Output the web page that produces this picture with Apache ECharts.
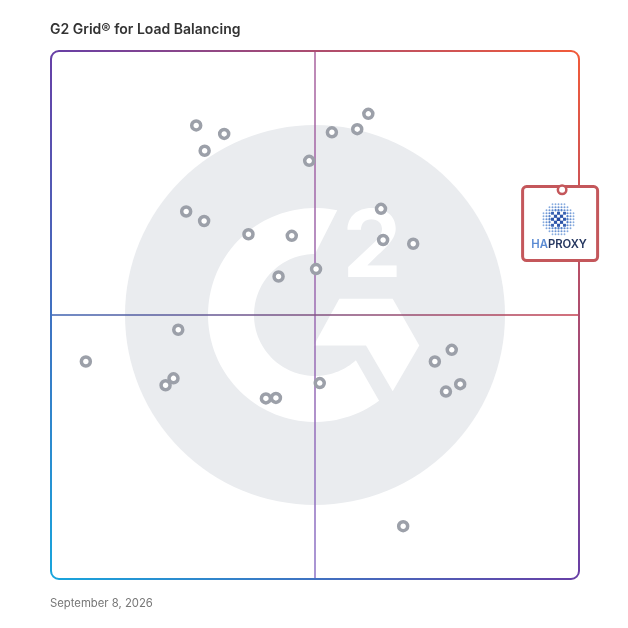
<!DOCTYPE html>
<html><head><meta charset="utf-8">
<script src="https://cdn.jsdelivr.net/npm/echarts@6/dist/echarts.min.js"></script>
<style>html,body{margin:0;padding:0;background:#fff}#c{width:628px;height:628px}</style>
</head><body><div id="c"></div>
<script>
// ---- data ----
const titleText = 'G2 Grid® for Load Balancing';
const dateText = 'September 8, 2026';
// x = satisfaction, y = market presence (0-100)
const productX = [27.5,32.8,29.1,53.2,58.0,60.1,48.9,25.6,29.0,37.4,45.6,62.5,62.9,68.6,43.1,50.2,24.1,6.6,23.2,21.7,40.7,42.6,50.9,72.7,75.9,74.8,77.5,66.7];
const productY = [85.9,84.3,81.1,84.6,85.2,88.1,79.2,69.6,67.8,65.3,65.0,70.1,64.2,63.5,57.3,58.7,47.2,41.2,38.0,36.7,34.2,34.3,37.1,41.2,43.4,35.5,36.9,10.0];
const featuredNameA = 'HA';
const featuredNameB = 'PROXY';
const featuredX = [96.8];
const featuredY = [73.7];
const axisMin = 0, axisMax = 100, midValue = 50;

// ---- chart ----
const chart = echarts.init(document.getElementById('c'), null, {renderer: 'canvas'});
chart.setOption({
  animation: false,
  backgroundColor: '#fff',
  title: [
    {text: titleText, left: 50, top: 23, padding: 0,
     textStyle: {fontFamily: 'Inter', fontSize: 14, fontWeight: 600, color: '#333'}},
    {text: dateText, left: 50, top: 598, padding: 0,
     textStyle: {fontFamily: 'Inter', fontSize: 11.3, fontWeight: 400, color: '#777'}}
  ],
  grid: {left: 51, top: 51, width: 528, height: 528},
  xAxis: {type: 'value', min: axisMin, max: axisMax, show: false},
  yAxis: {type: 'value', min: axisMin, max: axisMax, show: false},
  series: [
    {type: 'scatter', z: 5, symbol: 'circle', symbolSize: 9,
     itemStyle: {color: '#fff', borderColor: '#9ca0a9', borderWidth: 3.5, opacity: 1},
     data: productX.map((x, i) => [x, productY[i]])},
    {type: 'scatter', z: 30, symbol: 'circle', symbolSize: 8.5,
     itemStyle: {color: '#fff', borderColor: '#c4575b', borderWidth: 2.5, opacity: 1},
     data: featuredX.map((x, i) => [x, featuredY[i]])}
  ]
});

const px = (x, y) => chart.convertToPixel({gridIndex: 0}, [x, y]);
const tl = px(axisMin, axisMax), br = px(axisMax, axisMin), c = px(midValue, midValue);
const s = (br[0] - tl[0]) / 528;
const G = echarts.graphic;

function arcPts(r, a0, a1, n) {
  const pts = [];
  for (let i = 0; i <= n; i++) {
    const a = (a0 + (a1 - a0) * i / n) * Math.PI / 180;
    pts.push([c[0] + r * s * Math.cos(a), c[1] - r * s * Math.sin(a)]);
  }
  return pts;
}
const cPoly = arcPts(107, 78, 306.8, 90).concat(arcPts(61, 312.1, 90, 90));
const chev = [[24.3,-16.2],[77.7,-16.2],[104.3,30.5],[77.7,76.2],[51,30.5],[-1.3,30.5]]
  .map(p => [c[0] + p[0] * s, c[1] + p[1] * s]);

const logoGray = '#eaecef';
const els = [
  {type: 'circle', z: 0, shape: {cx: c[0], cy: c[1], r: 190 * s}, style: {fill: logoGray}, silent: true},
  {type: 'polygon', z: 0, shape: {points: cPoly}, style: {fill: '#fff'}, silent: true},
  {type: 'polygon', z: 0, shape: {points: chev}, style: {fill: '#fff'}, silent: true},
  {type: 'text', z: 0, x: c[0] + 57 * s, y: c[1] - 66 * s,
   style: {text: '2', fill: '#fff', font: '700 94px Inter', align: 'center', verticalAlign: 'middle'}, silent: true},
  // quadrant lines
  {type: 'line', z: 1, shape: {x1: c[0], y1: tl[1], x2: c[0], y2: br[1]},
   style: {lineWidth: 1.5, stroke: new G.LinearGradient(c[0], tl[1], c[0], br[1],
     [{offset: 0, color: '#a9629d'}, {offset: 1, color: '#8c72c6'}], true)}, silent: true},
  {type: 'line', z: 1, shape: {x1: tl[0], y1: c[1], x2: br[0], y2: c[1]},
   style: {lineWidth: 1.5, stroke: new G.LinearGradient(tl[0], c[1], br[0], c[1],
     [{offset: 0, color: '#3d63b2'}, {offset: 1, color: '#c4404f'}], true)}, silent: true},
  // border
  {type: 'rect', z: 2, shape: {x: tl[0], y: tl[1], width: br[0] - tl[0], height: br[1] - tl[1], r: 8},
   style: {fill: 'none', lineWidth: 2, stroke: new G.LinearGradient(1, 0, 0, 1,
     [{offset: 0, color: '#f35b38'}, {offset: 0.5, color: '#673fa6'}, {offset: 1, color: '#17a6dd'}])}, silent: true}
];

// featured callout
const m = px(featuredX[0], featuredY[0]);
els.push({type: 'rect', z: 20, shape: {x: m[0] - 39.5, y: m[1] - 3.3, width: 75, height: 74, r: 4},
  style: {fill: '#fff', stroke: '#c4575b', lineWidth: 3}, silent: true});
// dotted sphere mark
const sc = [m[0] - 3.6, m[1] + 29.4], R = 16.5, step = 3.0;
function mix(a, b, t) {
  const pa = [1,3,5].map(i => parseInt(a.substr(i,2),16)), pb = [1,3,5].map(i => parseInt(b.substr(i,2),16));
  return 'rgb(' + pa.map((v, k) => Math.round(v + (pb[k] - v) * t)).join(',') + ')';
}
for (let i = -6; i <= 6; i++) {
  for (let j = -6; j <= 6; j++) {
    const dx = i * step, dy = j * step, d = Math.sqrt(dx * dx + dy * dy);
    if (d > R) continue;
    const t = d / R;
    if (d < 8.5) {
      if ((i + j) % 2 !== 0) continue;
      const sz = 3.5 - 1.2 * t;
      els.push({type: 'rect', z: 21, shape: {x: sc[0] + dx - sz / 2, y: sc[1] + dy - sz / 2, width: sz, height: sz},
        style: {fill: mix('#23479e', '#4a78c4', t)}, silent: true});
    } else {
      els.push({type: 'circle', z: 21, shape: {cx: sc[0] + dx, cy: sc[1] + dy, r: 1.5 - 0.6 * t},
        style: {fill: mix('#4a78c4', '#8fb2e3', (t - 0.5) / 0.5)}, silent: true});
    }
  }
}
els.push({type: 'text', z: 21, x: m[0] - 3, y: m[1] + 54.4,
  style: {text: '{a|' + featuredNameA + '}{b|' + featuredNameB + '}', align: 'center', verticalAlign: 'middle',
    rich: {a: {fontFamily: 'Inter', fontSize: 11.3, fontWeight: 600, fill: '#5b8bd3', color: '#5b8bd3'},
           b: {fontFamily: 'Inter', fontSize: 11.3, fontWeight: 600, fill: '#24365f', color: '#24365f'}}}, silent: true});

chart.setOption({graphic: {elements: els}});
</script>
</body></html>
